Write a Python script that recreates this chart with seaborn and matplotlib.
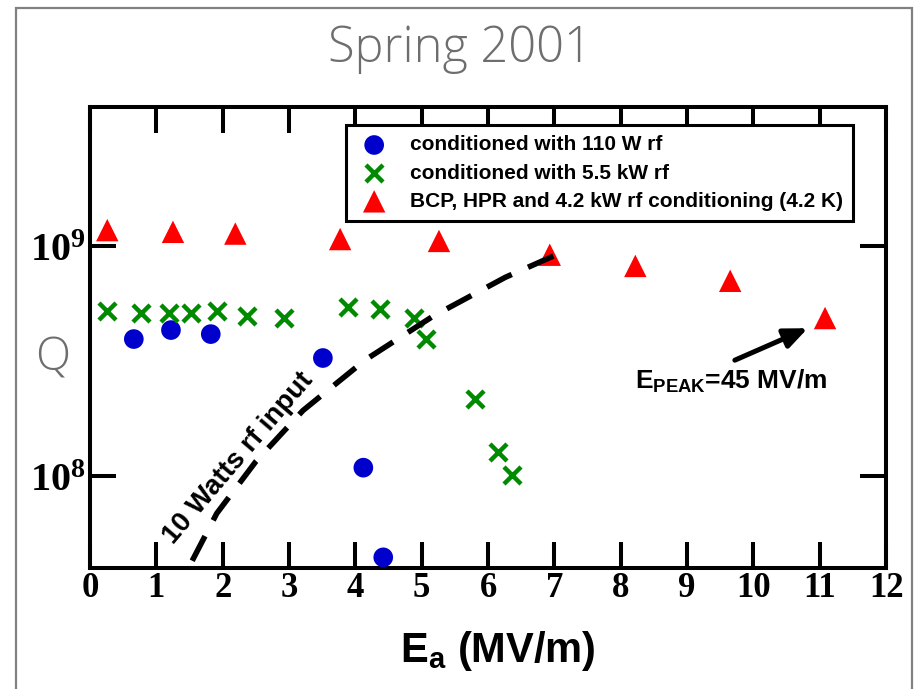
import matplotlib
matplotlib.use('Agg')
import matplotlib.pyplot as plt
from matplotlib.patches import Rectangle
from matplotlib.ticker import FixedLocator, FixedFormatter, NullLocator
import seaborn as sns

# values
E_110W = [0.66, 1.22, 1.82, 3.51, 4.12, 4.42]
Q_110W = [3.94e8, 4.31e8, 4.14e8, 3.26e8, 1.09e8, 4.45e7]

E_55kW = [0.26, 0.77, 1.19, 1.52, 1.92, 2.37, 2.92, 3.89, 4.37, 4.89, 5.07, 5.80, 6.15, 6.36]
Q_55kW = [5.21e8, 5.11e8, 5.11e8, 5.11e8, 5.21e8, 4.96e8, 4.86e8, 5.43e8, 5.33e8,
          4.86e8, 3.94e8, 2.16e8, 1.27e8, 1.01e8]

E_bcp = [0.26, 1.25, 2.19, 3.77, 5.26, 6.93, 8.22, 9.65, 11.08]
Q_bcp = [1.17e9, 1.15e9, 1.13e9, 1.07e9, 1.05e9, 9.15e8, 8.18e8, 7.05e8, 4.86e8]

# 10 W rf input line
E_10W = [1.54, 1.91, 2.5, 3.21, 4.15, 5.17, 6.26, 7.03]
Q_10W = [4.3e7, 6.9e7, 1.16e8, 1.93e8, 3.2e8, 4.95e8, 7.3e8, 9.15e8]

labels = ['conditioned with 110 W rf',
          'conditioned with 5.5 kW rf',
          'BCP, HPR and 4.2 kW rf conditioning (4.2 K)']
x_ticks = list(range(0, 13))
y_ticks = [1e8, 1e9]
y_ticklabels = [r'$\mathbf{10^{8}}$', r'$\mathbf{10^{9}}$']

sns.set_style('ticks')
plt.rcParams['font.family'] = ['Liberation Sans', 'DejaVu Sans']
plt.rcParams['text.color'] = 'black'
plt.rcParams['xtick.color'] = 'black'
plt.rcParams['ytick.color'] = 'black'
plt.rcParams['mathtext.fontset'] = 'custom'
plt.rcParams['mathtext.rm'] = 'Liberation Sans:bold'
plt.rcParams['mathtext.bf'] = 'Liberation Serif:bold'

fig = plt.figure(figsize=(9.15, 6.89), dpi=100)
ax = fig.add_axes([0.0984, 0.1756, 0.870, 0.669])
ax.set_yscale('log')

sns.scatterplot(x=E_110W, y=Q_110W, color='#0000cc', marker='o', s=200,
                edgecolor='none', label=labels[0], ax=ax, zorder=3)
sns.scatterplot(x=E_55kW, y=Q_55kW, color='#008a00', marker='x', s=150,
                linewidth=3.2, label=labels[1], ax=ax, zorder=3)
sns.scatterplot(x=E_bcp, y=Q_bcp, color='#ff0000', marker='^', s=260,
                edgecolor='none', label=labels[2], ax=ax, zorder=3)
sns.lineplot(x=E_10W, y=Q_10W, color='black', lw=4.0, linestyle=(0, (5.0, 3.2)),
             ax=ax, zorder=4)

ax.set_xlim(0, 12)
ax.set_ylim(4.0e7, 4.0e9)
ax.xaxis.set_major_locator(FixedLocator(x_ticks))
ax.yaxis.set_major_locator(FixedLocator(y_ticks))
ax.yaxis.set_major_formatter(FixedFormatter(y_ticklabels))
ax.yaxis.set_minor_locator(NullLocator())
ax.tick_params(which='major', direction='in', length=19, width=2.9,
               top=True, right=True, color='black', labelcolor='black')
ax.tick_params(axis='x', pad=3, labelsize=25)
ax.tick_params(axis='y', pad=3, labelsize=29)
for lab in ax.get_xticklabels():
    lab.set_fontfamily('Liberation Serif')
    lab.set_fontweight('bold')
for sp in ax.spines.values():
    sp.set_linewidth(2.9)
    sp.set_color('black')
ax.set_xlabel('')
ax.set_ylabel('')

ax.text(2.24, 1.2e8, '10 Watts rf input', rotation=49.5, rotation_mode='anchor',
        ha='center', va='center', fontsize=20, fontweight='bold')
ax.annotate('', xy=(10.82, 4.39e8), xytext=(9.72, 3.19e8),
            arrowprops=dict(arrowstyle='-|>,head_length=0.7,head_width=0.3',
                            mutation_scale=20, lw=3.6, color='black',
                            shrinkA=0, shrinkB=0))
ax.text(8.22, 2.41e8, r'E$_\mathrm{PEAK}$=45 MV/m', fontsize=19,
        fontweight='bold', ha='left', va='baseline')

leg = ax.legend(loc='upper left', bbox_to_anchor=(0.3216, 0.961), borderaxespad=0,
                frameon=True, fancybox=False, edgecolor='black', framealpha=1,
                prop=dict(weight='bold', size=15), borderpad=0.5,
                labelspacing=0.44, handlelength=1.7, handletextpad=0.85)
leg.get_frame().set_linewidth(2.2)

fig.text(0.503, 0.910, 'Spring 2001', ha='center', va='baseline', fontsize=35,
         color='#6e6e6e', family=['Open Sans', 'DejaVu Sans'], fontweight='light')
fig.text(0.057, 0.480, 'Q', ha='center', va='center', fontsize=33,
         color='#6e6e6e', family=['Open Sans', 'DejaVu Sans'], fontweight='light')
fig.text(0.544, 0.039, r'E$_\mathrm{a}$ (MV/m)', ha='center', va='baseline',
         fontsize=30, fontweight='bold')

fig.add_artist(Rectangle((0.0175, -0.05), 0.979, 1.038, transform=fig.transFigure,
                         fill=False, edgecolor='#808080', lw=1.6))

fig.savefig('out.png', dpi=100)
